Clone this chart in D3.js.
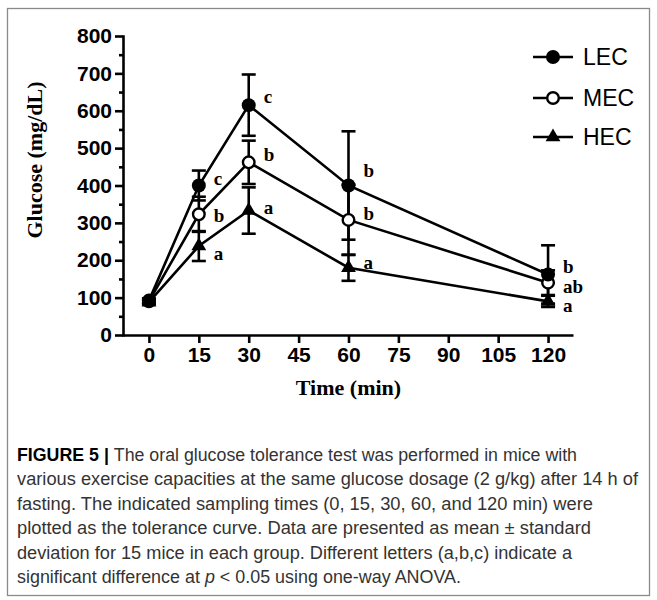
<!DOCTYPE html>
<html><head><meta charset="utf-8">
<script src="https://cdn.jsdelivr.net/npm/d3@7"></script>
<style>body{margin:0;background:#fff} svg{display:block}</style>
</head><body><svg id="c" width="657" height="600"></svg>
<script>
// ---- data ----
const times = [0, 15, 30, 60, 120];
const xTickValues = [0, 15, 30, 45, 60, 75, 90, 105, 120];
const yTickValues = [0, 100, 200, 300, 400, 500, 600, 700, 800];
const seriesNames = ["LEC", "MEC", "HEC"];
const lecMean = [92, 400, 615, 400, 162];
const lecSD   = [6, 40, 82, 145, 78];
const mecMean = [90, 323, 462, 308, 140];
const mecSD   = [6, 47, 58, 94, 33];
const hecMean = [88, 238, 333, 180, 90];
const hecSD   = [6, 40, 62, 35, 15];
const lecLetters = ["", "c", "c", "b", "b"];
const mecLetters = ["", "b", "b", "b", "ab"];
const hecLetters = ["", "a", "a", "a", "a"];
// letter anchor values (mg/dL)
const lecLetterY = [null, 420, 639, 441, 182];
const mecLetterY = [null, 321, 484, 326, 131];
const hecLetterY = [null, 219, 342, 195, 80];
const xTitle = "Time (min)";
const yTitle = "Glucose (mg/dL)";
const captionLines = [
  [{t:"FIGURE 5 | ", b:true}, {t:"The oral glucose tolerance test was performed in mice with"}],
  [{t:"various exercise capacities at the same glucose dosage (2 g/kg) after 14 h of"}],
  [{t:"fasting. The indicated sampling times (0, 15, 30, 60, and 120 min) were"}],
  [{t:"plotted as the tolerance curve. Data are presented as mean \u00B1 standard"}],
  [{t:"deviation for 15 mice in each group. Different letters (a,b,c) indicate a"}],
  [{t:"significant difference at "}, {t:"p", i:true}, {t:" < 0.05 using one-way ANOVA."}]
];
const captionWidths = [560, 621, 576, 574, 555, 444];

const series = [
  {name: "HEC", mean: hecMean, sd: hecSD, letters: hecLetters, ly: hecLetterY, sym: "tri"},
  {name: "MEC", mean: mecMean, sd: mecSD, letters: mecLetters, ly: mecLetterY, sym: "open"},
  {name: "LEC", mean: lecMean, sd: lecSD, letters: lecLetters, ly: lecLetterY, sym: "fill"}
];

// ---- drawing ----
const svg = d3.select("#c");
svg.append("rect").attr("x", 7.5).attr("y", 8.5).attr("width", 642).attr("height", 587)
  .attr("fill", "none").attr("stroke", "#8a8a8a").attr("stroke-width", 1.3);

const x = d3.scaleLinear().domain([-7.8, 127.5]).range([123, 573]);
const y = d3.scaleLinear().domain([0, 800]).range([335, 36]);
const SW = 2.6;
const tickFont = "'Liberation Sans', Arial, sans-serif";

// y axis
const yAxisG = svg.append("g").attr("transform", `translate(${x.range()[0]},0)`);
yAxisG.call(d3.axisLeft(y).tickValues(yTickValues).tickSize(8).tickPadding(3).tickSizeOuter(0));
const yMinor = svg.append("g").attr("transform", `translate(${x.range()[0]},0)`);
yMinor.call(d3.axisLeft(y).tickValues(d3.range(50, 800, 100)).tickSize(4).tickFormat("").tickSizeOuter(0));
yMinor.select(".domain").remove();
// x axis
const xAxisG = svg.append("g").attr("transform", `translate(0,${y(0)})`);
xAxisG.call(d3.axisBottom(x).tickValues(xTickValues).tickSize(8).tickPadding(4).tickSizeOuter(0));

[yAxisG, yMinor, xAxisG].forEach(g => {
  g.selectAll("path,line").attr("stroke", "#000").attr("stroke-width", SW);
  g.selectAll("text").attr("font-family", tickFont).attr("font-weight", "bold")
    .attr("font-size", 21).attr("fill", "#000");
});
yAxisG.select(".domain").attr("stroke-linecap", "square");

// titles
svg.append("text").attr("x", x(60)).attr("y", 395).attr("text-anchor", "middle")
  .attr("font-family", "'Liberation Serif', 'Times New Roman', serif").attr("font-weight", "bold")
  .attr("font-size", 22).text(xTitle);
svg.append("text").attr("transform", "translate(42,160) rotate(-90)").attr("text-anchor", "middle")
  .attr("font-family", "'Liberation Serif', 'Times New Roman', serif").attr("font-weight", "bold")
  .attr("font-size", 22).text(yTitle);

const plot = svg.append("g");
const capW = 7;
// error bars
series.forEach(s => {
  times.forEach((t, i) => {
    const cx = x(t), lo = y(s.mean[i] - s.sd[i]), hi = y(s.mean[i] + s.sd[i]);
    plot.append("line").attr("x1", cx).attr("x2", cx).attr("y1", lo).attr("y2", hi)
      .attr("stroke", "#000").attr("stroke-width", SW);
    [lo, hi].forEach(v => plot.append("line").attr("x1", cx - capW).attr("x2", cx + capW)
      .attr("y1", v).attr("y2", v).attr("stroke", "#000").attr("stroke-width", SW));
  });
});
// lines
const line = d3.line().x((d, i) => x(times[i])).y(d => y(d));
series.forEach(s => {
  plot.append("path").attr("d", line(s.mean)).attr("fill", "none")
    .attr("stroke", "#000").attr("stroke-width", SW);
});
// markers
const tri = d3.symbol().type(d3.symbolTriangle).size(95);
function marker(g, sym, cx, cy) {
  if (sym === "tri") {
    g.append("path").attr("d", tri()).attr("transform", `translate(${cx},${cy})`).attr("fill", "#000");
  } else if (sym === "open") {
    g.append("circle").attr("cx", cx).attr("cy", cy).attr("r", 5.8)
      .attr("fill", "#fff").attr("stroke", "#000").attr("stroke-width", 2.4);
  } else {
    g.append("circle").attr("cx", cx).attr("cy", cy).attr("r", 7).attr("fill", "#000");
  }
}
series.forEach(s => times.forEach((t, i) => marker(plot, s.sym, x(t), y(s.mean[i]))));
// letters
series.forEach(s => times.forEach((t, i) => {
  if (!s.letters[i]) return;
  plot.append("text").attr("x", x(t) + 15).attr("y", y(s.ly[i]))
    .attr("dominant-baseline", "central")
    .attr("font-family", "'Liberation Serif', 'Times New Roman', serif").attr("font-weight", "bold")
    .attr("font-size", 19).text(s.letters[i]);
}));

// legend
const legY = [57, 98, 137];
const legSym = {LEC: "fill", MEC: "open", HEC: "tri"};
seriesNames.forEach((n, k) => {
  const g = svg.append("g");
  g.append("line").attr("x1", 533).attr("x2", 573).attr("y1", legY[k]).attr("y2", legY[k])
    .attr("stroke", "#000").attr("stroke-width", SW);
  marker(g, legSym[n], 553, legY[k]);
  g.append("text").attr("x", 583).attr("y", legY[k]).attr("dominant-baseline", "central")
    .attr("font-family", tickFont).attr("font-size", 23).text(n);
});

// caption
const capG = svg.append("g");
captionLines.forEach((segs, k) => {
  const t = capG.append("text").attr("x", 17).attr("y", 461 + k * 24.4)
    .attr("font-family", "'Liberation Sans Narrow', 'Liberation Sans', Arial, sans-serif")
    .attr("font-size", 17.5).attr("fill", "#333")
    .attr("textLength", captionWidths[k]).attr("lengthAdjust", "spacingAndGlyphs");
  segs.forEach(s => {
    const ts = t.append("tspan").text(s.t);
    if (s.b) ts.attr("font-weight", "bold").attr("fill", "#000");
    if (s.i) ts.attr("font-style", "italic");
  });
});
</script></body></html>
